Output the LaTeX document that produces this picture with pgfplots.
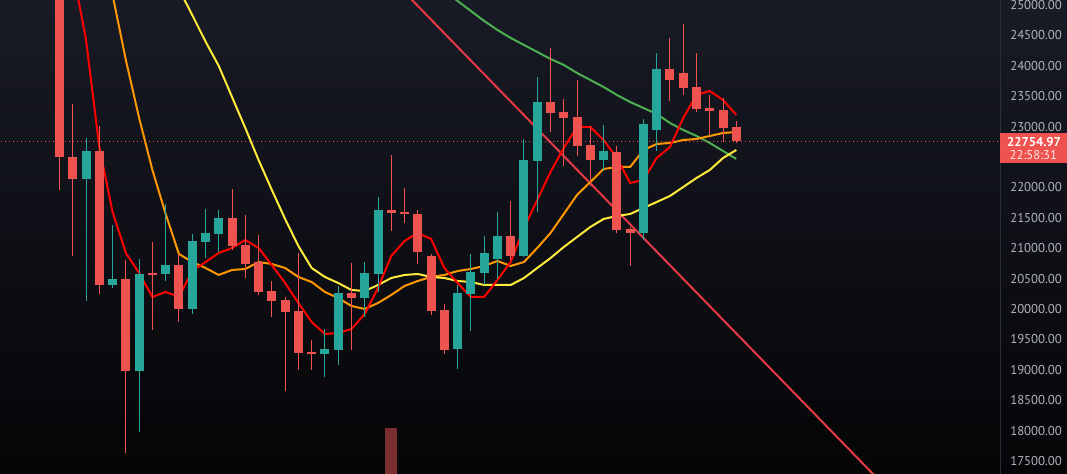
\documentclass[border=0pt]{standalone}
\usepackage{pgfplots}
\pgfplotsset{compat=1.18}
\usepackage{pgfplotstable}
\usepackage{fontspec}
\setmainfont{PT Sans}
\definecolor{bgtop}{RGB}{24,26,37}
\definecolor{bgbot}{RGB}{5,5,7}
\definecolor{cdown}{RGB}{239,83,80}
\definecolor{cup}{RGB}{38,166,154}
\definecolor{mared}{RGB}{255,0,0}
\definecolor{maorange}{RGB}{255,152,0}
\definecolor{mayellow}{RGB}{255,235,59}
\definecolor{magreen}{RGB}{76,175,80}
\definecolor{trend}{RGB}{230,57,70}
\definecolor{volbar}{RGB}{123,46,48}
\definecolor{lbl}{RGB}{178,181,190}
\definecolor{sepc}{RGB}{42,46,57}

\pgfplotstableread{
i o h l c
0 25400 25500 21951 22493
1 22504 23374 20867 22143
3 22603 23013 20238 20402
5 20485 20813 17627 18974
7 20583 21108 19647 20570
9 20731 20911 19778 19993
13 21503 21979 20976 21043
14 21059 21553 20517 20747
15 20780 21223 20222 20271
16 20287 20452 19860 20123
17 20140 20189 18645 19943
18 19959 20928 18990 19269
19 19286 19483 18990 19253
22 20255 20764 19319 20173
25 21634 22537 21289 21585
26 21585 21995 21420 21570
27 21570 21620 20747 20944
28 20879 20900 19894 19959
29 19975 20074 19253 19319
34 21207 21782 20813 20879
37 23407 24294 22915 23227
38 23243 23457 22356 23145
39 23161 23769 22520 22685
40 22701 23013 22028 22455
42 22586 22685 21256 21306
43 21322 21355 20714 21256
46 23949 24458 23424 23769
47 23883 24688 23522 23637
48 23654 24212 23243 23292
49 23309 23522 22865 23260
50 23276 23473 22750 22980
51 22997 23095 22734 22755
}\candlesdown

\pgfplotstableread{
i o h l c
2 22143 22816 20128 22603
4 20402 21388 20337 20485
6 18974 20829 17972 20583
8 20567 21732 20452 20731
10 19993 21240 19910 21125
11 21108 21650 20846 21256
12 21240 21634 20944 21503
20 19253 19664 18875 19335
21 19319 20370 19072 20255
23 20173 20764 19861 20583
24 20567 21847 20271 21634
30 19335 20402 19007 20255
31 20238 20911 19631 20601
32 20583 21207 20402 20928
33 20829 21601 20485 21207
35 20879 22800 20860 22455
36 22438 23818 21601 23407
41 22455 23030 22274 22603
44 21256 23128 21141 23046
45 22948 24212 22603 23949
}\candlesup

\pgfplotsset{
  candle/.style 2 args={only marks, mark=*, mark size=0pt, mark options={draw=none, fill=none}, forget plot,
    error bars/.cd, y dir=both, y explicit, error mark=none,
    error bar style={draw=#1, line width=#2}},
}

\begin{document}
\begin{tikzpicture}
\shade[top color=bgtop, bottom color=bgbot] (0,0) rectangle (800.25pt,355.5pt);
\begin{axis}[
  at={(0,0)}, anchor=south west,
  width=750pt, height=355.5pt, scale only axis,
  xmin=-4.484, xmax=70.87,
  ymin=17285, ymax=25082,
  axis line style={draw=none},
  xtick=\empty,
  ytick={17500,18000,18500,19000,19500,20000,20500,21000,21500,22000,23000,23500,24000,24500,25000},
  scaled y ticks=false,
  yticklabel pos=right,
  major tick length=0pt,
  yticklabel style={anchor=west, inner sep=0pt, xshift=7.5pt, text=lbl,
    font=\fontsize{9.6}{11}\selectfont,
    /pgf/number format/.cd, fixed, fixed zerofill, precision=2, 1000 sep={}, assume math mode=true},
]
% trend line
\addplot[trend, line width=1.5pt, forget plot] coordinates {(25,25432) (63,16904)};
% volume-like bar
\addplot[fill=volbar, draw=none, forget plot] coordinates {(24.53,17000) (24.53,18042) (25.43,18042) (25.43,17000)} -- cycle;
% green MA
\addplot[magreen, line width=1.5pt, forget plot] coordinates {(28,25345) (29,25230) (30,25066) (31,24901) (32,24737) (33,24589) (34,24457) (35,24342) (36,24227) (37,24112) (38,24013) (39,23881) (40,23766) (41,23651) (42,23520) (43,23404) (44,23306) (45,23207) (46,23059) (47,22944) (48,22845) (49,22730) (50,22598) (51,22467)};
% orange MA
\addplot[maorange, line width=1.5pt, forget plot] coordinates {(3,26234) (4,25165) (5,24095) (6,23141) (7,22286) (8,21562) (9,20904) (10,20772) (11,20674) (12,20559) (13,20641) (14,20657) (15,20772) (16,20739) (17,20674) (18,20526) (19,20443) (20,20279) (21,20180) (22,20049) (23,19999) (24,20098) (25,20230) (26,20378) (27,20460) (28,20526) (29,20559) (30,20624) (31,20657) (32,20707) (33,20789) (34,20707) (35,20772) (36,21003) (37,21249) (38,21562) (39,21876) (40,22088) (41,22302) (42,22335) (43,22335) (44,22615) (45,22713) (46,22730) (47,22779) (48,22796) (49,22845) (50,22894) (51,22911)};
% yellow MA
\addplot[mayellow, line width=1.5pt, forget plot] coordinates {(8,25674) (9,25263) (10,24836) (11,24400) (12,23997) (13,23487) (14,22977) (15,22450) (16,21957) (17,21480) (18,21036) (19,20674) (20,20526) (21,20427) (22,20312) (23,20295) (24,20394) (25,20509) (26,20559) (27,20575) (28,20526) (29,20509) (30,20460) (31,20443) (32,20394) (33,20394) (34,20394) (35,20509) (36,20674) (37,20838) (38,21019) (39,21184) (40,21348) (41,21480) (42,21529) (43,21562) (44,21661) (45,21759) (46,21858) (47,22006) (48,22154) (49,22286) (50,22483) (51,22615)};
% red MA
\addplot[mared, line width=1.5pt, forget plot] coordinates {(1,25576) (2,24424) (3,22664) (4,21595) (5,20920) (6,20591) (7,20197) (8,20279) (9,20197) (10,20624) (11,20772) (12,20920) (13,21003) (14,21134) (15,21003) (16,20723) (17,20427) (18,20098) (19,19785) (20,19588) (21,19604) (22,19670) (23,19917) (24,20345) (25,20871) (26,21118) (27,21249) (28,21151) (29,20674) (30,20427) (31,20197) (32,20197) (33,20476) (34,20772) (35,21332) (36,21792) (37,22253) (38,22648) (39,22993) (40,22993) (41,22779) (42,22483) (43,22072) (44,22121) (45,22483) (46,22664) (47,23141) (48,23520) (49,23585) (50,23437) (51,23190)};
% current price line
\addplot[cdown, line width=0.75pt, dash pattern=on 0.9pt off 2.1pt, forget plot] coordinates {(-5,22754.97) (71,22754.97)};
% wicks
\addplot[candle={cdown}{0.75pt}]
  table[x=i, y expr={(\thisrow{h}+\thisrow{l})/2}, y error expr={(\thisrow{h}-\thisrow{l})/2}] {\candlesdown};
\addplot[candle={cup}{0.75pt}]
  table[x=i, y expr={(\thisrow{h}+\thisrow{l})/2}, y error expr={(\thisrow{h}-\thisrow{l})/2}] {\candlesup};
% bodies
\addplot[candle={cdown}{6.75pt}]
  table[x=i, y expr={(\thisrow{o}+\thisrow{c})/2}, y error expr={max(abs(\thisrow{o}-\thisrow{c})/2,12)}] {\candlesdown};
\addplot[candle={cup}{6.75pt}]
  table[x=i, y expr={(\thisrow{o}+\thisrow{c})/2}, y error expr={max(abs(\thisrow{o}-\thisrow{c})/2,12)}] {\candlesup};
\end{axis}
\draw[sepc, line width=0.75pt] (750pt,0) -- (750pt,355.5pt);
\fill[cdown] (750pt,233pt) rectangle (800.25pt,255.75pt);
\node[anchor=center, inner sep=0pt, text=white, font=\fontsize{9.6}{11}\selectfont\bfseries] at (775.5pt,249.2pt) {22754.97};
\node[anchor=center, inner sep=0pt, text=white, text opacity=0.85, font=\fontsize{9.6}{11}\selectfont] at (775pt,239.25pt) {22:58:31};
\pgfresetboundingbox
\useasboundingbox (0,0) rectangle (800.25pt,355.5pt);
\end{tikzpicture}
\end{document}
